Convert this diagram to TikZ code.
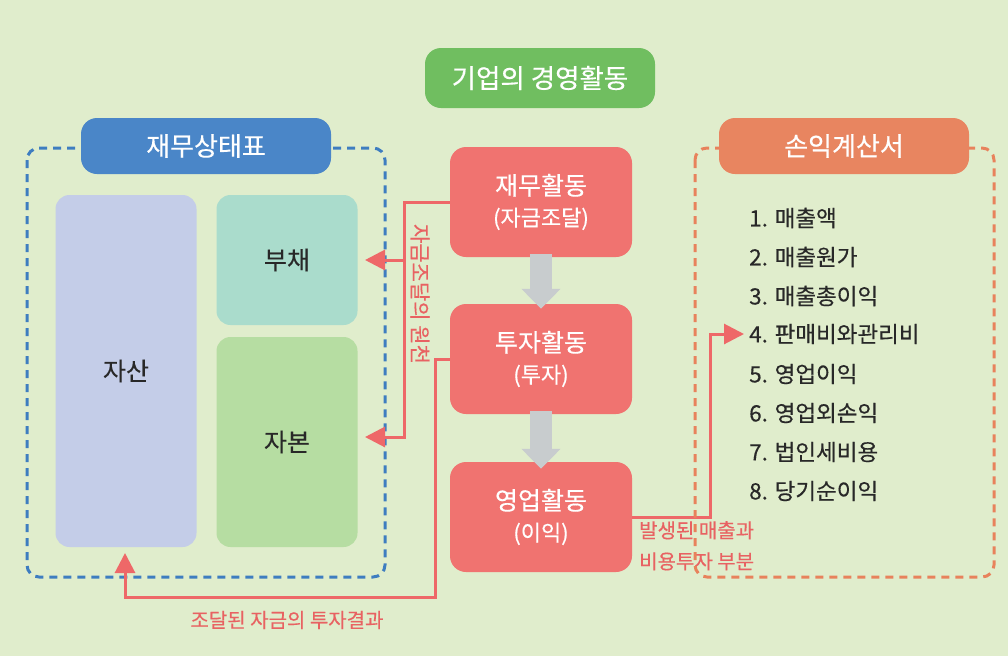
\documentclass[tikz,border=0pt]{standalone}
\usepackage{fontspec}
\setmainfont{Noto Sans CJK KR}[FakeBold=0.35]
\usetikzlibrary{arrows.meta}
\definecolor{bg}{RGB}{224,237,204}
\definecolor{titlegreen}{RGB}{112,190,96}
\definecolor{bsblue}{RGB}{74,134,200}
\definecolor{isorange}{RGB}{232,133,96}
\definecolor{dashblue}{RGB}{62,125,192}
\definecolor{dashorange}{RGB}{232,130,92}
\definecolor{assetc}{RGB}{196,205,232}
\definecolor{debtc}{RGB}{170,220,204}
\definecolor{capc}{RGB}{182,221,162}
\definecolor{actred}{RGB}{240,115,112}
\definecolor{linered}{RGB}{238,104,104}
\definecolor{txtred}{RGB}{232,98,98}
\definecolor{flowgray}{RGB}{200,204,206}
\definecolor{darktxt}{RGB}{40,40,40}
\tikzset{
  hdr/.style={rounded corners=16pt, text=white, font=\fontsize{26}{30}\selectfont, minimum height=56pt, minimum width=250pt, inner sep=0pt},
  part/.style={rounded corners=14pt, text=darktxt, font=\fontsize{25}{30}\selectfont, minimum width=141pt, inner sep=0pt},
  act/.style={fill=actred, rounded corners=16pt, text=white, align=center, minimum width=182pt, minimum height=110pt, inner sep=0pt, font=\fontsize{25}{33}\selectfont},
  dashbox/.style={line width=3pt, dash pattern=on 8pt off 6pt, rounded corners=12pt},
  redline/.style={draw=linered, line width=3pt, -{Triangle[length=20pt,width=20pt]}},
  flow/.style={draw=flowgray, line width=22pt, -{Triangle[length=20pt,width=38pt]}},
  item/.style={anchor=west, text=darktxt, font=\fontsize{22.5}{26}\selectfont, inner sep=0pt},
  redtxt/.style={text=txtred, font=\fontsize{20}{31}\selectfont, inner sep=0pt}
}
\begin{document}
\begin{tikzpicture}[x=1pt,y=-1pt]
\fill[bg] (0,0) rectangle (1008,656);
\useasboundingbox (0,0) rectangle (1008,656);

% title
\node[fill=titlegreen, rounded corners=16pt, text=white, minimum width=230pt, minimum height=60pt, inner sep=0pt, font=\fontsize{26.5}{30}\selectfont] (title) at (540,78) {기업의 경영활동};

% balance sheet frame
\draw[dashbox, draw=dashblue] (27,148) rectangle (385,577);
\node[hdr, fill=bsblue] (bs) at (206,146) {재무상태표};
\node[part, fill=assetc, minimum height=352pt] (asset) at (126,371) {자산};
\node[part, fill=debtc, minimum height=130pt] (debt) at (287,260) {부채};
\node[part, fill=capc, minimum height=210pt] (cap) at (287,442) {자본};

% activities
\node[act] (fin) at (541,202) {재무활동\\[-2pt]{\fontsize{22}{30}\selectfont (자금조달)}};
\node[act] (inv) at (541,359) {투자활동\\[-2pt]{\fontsize{22}{30}\selectfont (투자)}};
\node[act] (op) at (541,517) {영업활동\\[-2pt]{\fontsize{22}{30}\selectfont (이익)}};

\draw[flow] ([yshift=3pt]fin.south) -- ([yshift=-5pt]inv.north);
\draw[flow] ([yshift=3pt]inv.south) -- ([yshift=-7pt]op.north);

% income statement list
\node[item] (i1) at (749,218) {1. 매출액};
\node[item] (i2) at (749,257) {2. 매출원가};
\node[item] (i3) at (749,296) {3. 매출총이익};
\node[item] (i4) at (749,334) {4. 판매비와관리비};
\node[item] (i5) at (749,374) {5. 영업이익};
\node[item] (i6) at (749,413) {6. 영업외손익};
\node[item] (i7) at (749,452) {7. 법인세비용};
\node[item] (i8) at (749,491) {8. 당기순이익};

% connectors
\coordinate (finj) at (404,260);
\coordinate (debtin) at (365,260);
\coordinate (capin) at (365,437);
\draw[redline] (fin.west) -| (404,437) -- (capin);
\draw[redline] (finj) -- (debtin);

\coordinate (invlow) at (435,597);
\coordinate (assetin) at (125,553);
\draw[redline] (inv.west) -| (invlow) -| (assetin);

\coordinate (opup) at (710,334);
\draw[redline] (op.east) -| (opup) -- ([xshift=-5pt]i4.west);

% labels
\node[redtxt, rotate=-90, font=\fontsize{21}{24}\selectfont] (lsrc) at (420,294) {자금조달의 원천};
\node[redtxt] (lres) at (287,620) {조달된 자금의 투자결과};
\node[redtxt, align=left, anchor=north west] (lop) at (639,521) {발생된 매출과\\비용투자 부분};

% income statement frame
\draw[dashbox, draw=dashorange] (695,148) rectangle (994,577);
\node[hdr, fill=isorange] (is) at (844,146) {손익계산서};
\end{tikzpicture}
\end{document}
